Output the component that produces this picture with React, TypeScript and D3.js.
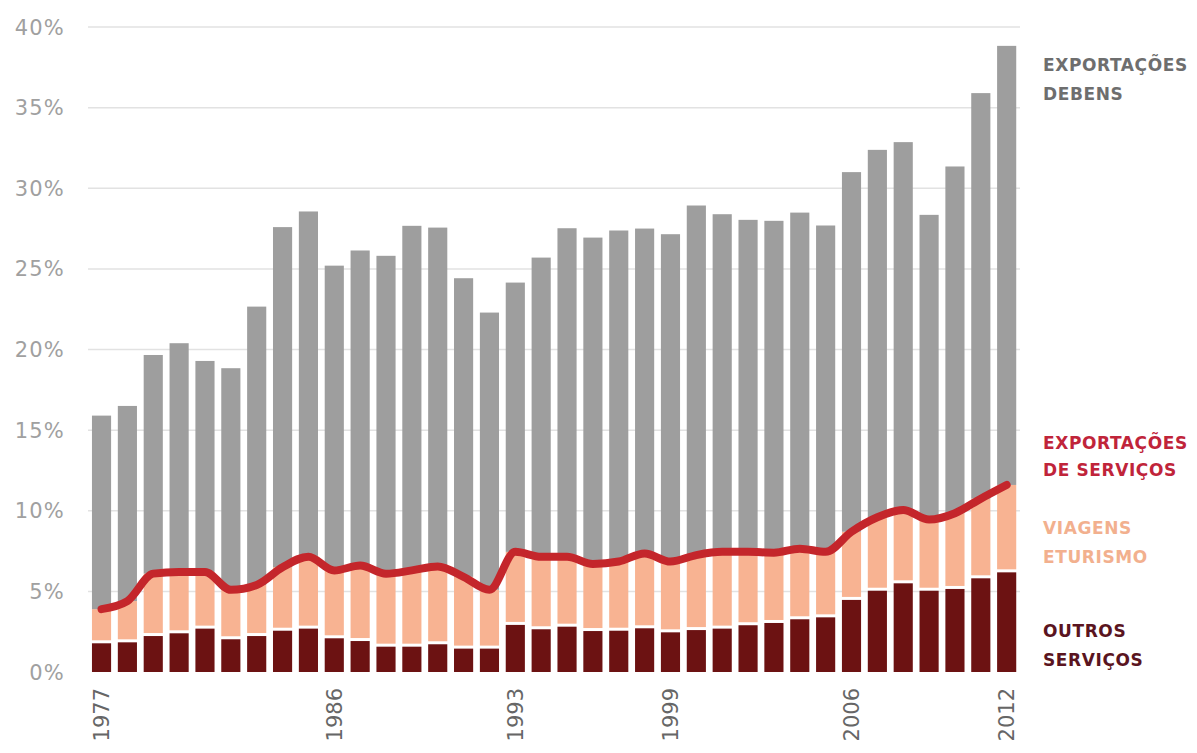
import React from "react";
import * as d3 from "d3";

const years = ["1977","1978","1979","1980","1981","1982","1983","1984","1985","1986","1987","1988","1989","1990","1991","1992","1993","1994","1995","1996","1997","1998","1999","2000","2001","2002","2003","2004","2005","2006","2007","2008","2009","2010","2011","2012"];
const outrosServicos = [1.78,1.84,2.23,2.4,2.69,2.03,2.23,2.56,2.69,2.09,1.92,1.57,1.57,1.72,1.45,1.45,2.92,2.65,2.81,2.54,2.56,2.71,2.46,2.6,2.69,2.9,3.04,3.27,3.39,4.47,5.04,5.5,5.04,5.15,5.81,6.18];
const viagensTurismo = [2.12,2.56,3.87,3.8,3.51,3.07,3.17,3.94,4.46,4.21,4.68,4.53,4.73,4.83,4.45,3.65,4.53,4.5,4.34,4.16,4.29,4.64,4.39,4.65,4.76,4.55,4.36,4.38,4.06,4.23,4.56,4.55,4.41,4.7,4.94,5.42];
const exportacoesBens = [12.0,12.1,13.56,14.19,13.09,13.74,17.26,21.09,21.41,18.9,19.54,19.71,21.37,21.01,18.52,17.19,16.7,18.55,20.37,20.24,20.53,20.15,20.3,21.68,20.94,20.59,20.58,20.84,20.24,22.3,22.78,22.81,18.9,21.5,25.15,27.23];
const yTicks = [0,5,10,15,20,25,30,35,40];
const xTickLabels = ["1977","1986","1993","1999","2006","2012"];

const keys = ["outros","viagens","bens"];
const colors: Record<string,string> = { outros: "#6c1212", viagens: "#f8b392", bens: "#9e9e9e" };

export default function App() {
  const W = 1197, H = 753;
  const rows = years.map((y, i) => ({ year: y, outros: outrosServicos[i], viagens: viagensTurismo[i], bens: exportacoesBens[i] }));
  const stack = d3.stack<any>().keys(keys)(rows);
  const x = d3.scaleBand<string>().domain(years).range([88.6, 1019.6]).paddingInner(0.26).paddingOuter(0.13);
  const y = d3.scaleLinear().domain([0, 40]).range([672, 27]);
  const bw = x.bandwidth();
  const line = d3.line<any>()
    .x((d: any) => (x(d.data.year) as number) + bw / 2)
    .y((d: any) => y(d[1]))
    .curve(d3.curveMonotoneX);
  const gap = 3;
  const font = "Verdana, 'DejaVu Sans', sans-serif";
  return (
    <svg width={W} height={H} style={{ position: "absolute", left: 0, top: 0, background: "#fff" }}>
      {yTicks.map(t => (
        <g key={t}>
          {t > 0 && <line x1={88} x2={1020} y1={y(t)} y2={y(t)} stroke="#e2e2e2" strokeWidth={1.5} />}
          <text x={65} y={y(t)} dy="0.36em" textAnchor="end" fontFamily={font} fontSize={21} fill="#a0a0a0" letterSpacing={1.2}>{t}%</text>
        </g>
      ))}
      {stack.map((s: any) => (
        <g key={s.key} fill={colors[s.key]}>
          {s.map((d: any) => {
            const top = y(d[1]);
            let bottom = y(d[0]);
            if (s.key === "viagens") bottom -= gap;
            return <rect key={d.data.year} x={x(d.data.year)} y={top} width={bw} height={Math.max(0, bottom - top)} />;
          })}
        </g>
      ))}
      <path d={line(stack[1] as any) || ""} fill="none" stroke="#c4262b" strokeWidth={8} strokeLinecap="round" strokeLinejoin="round" />
      {xTickLabels.map(l => {
        const cx = (x(l) as number) + bw / 2;
        return (
          <text key={l} transform={`translate(${cx},${688}) rotate(-90)`} textAnchor="end" dy="0.36em" fontFamily={font} fontSize={21} fill="#666">{l}</text>
        );
      })}
      <g fontFamily={font} fontWeight="bold" fontSize={17} letterSpacing={0.6}>
        <text x={1043} y={65} dy="0.36em" fill="#6e6e6e">EXPORTAÇÕES</text>
        <text x={1043} y={94} dy="0.36em" fill="#6e6e6e">DEBENS</text>
        <text x={1043} y={443} dy="0.36em" fill="#c0243a">EXPORTAÇÕES</text>
        <text x={1043} y={470} dy="0.36em" fill="#c0243a">DE SERVIÇOS</text>
        <text x={1043} y={528} dy="0.36em" fill="#f2b08e">VIAGENS</text>
        <text x={1043} y={557} dy="0.36em" fill="#f2b08e">ETURISMO</text>
        <text x={1043} y={631} dy="0.36em" fill="#5a1420">OUTROS</text>
        <text x={1043} y={660} dy="0.36em" fill="#5a1420">SERVIÇOS</text>
      </g>
    </svg>
  );
}
